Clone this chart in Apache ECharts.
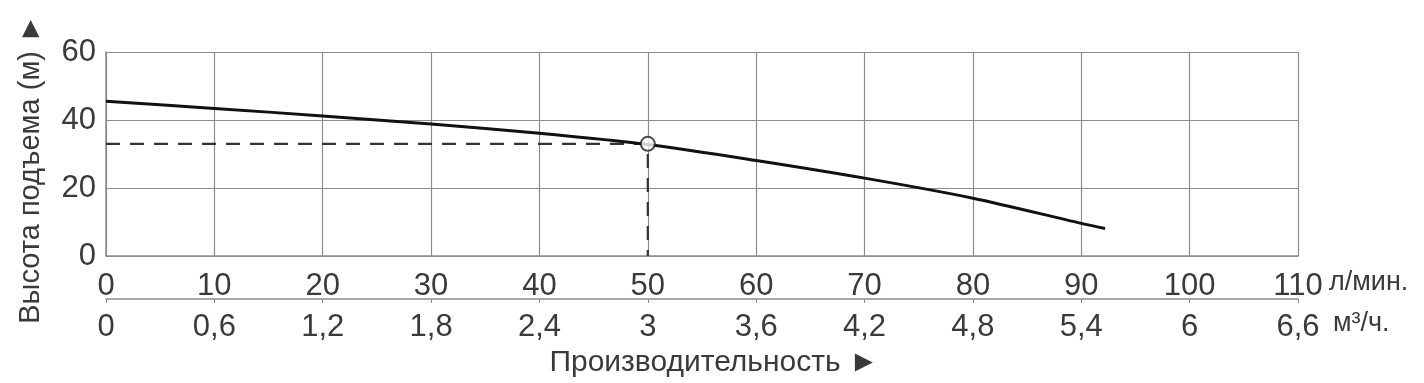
<!DOCTYPE html>
<html>
<head>
<meta charset="utf-8">
<script src="https://cdn.jsdelivr.net/npm/echarts@6/dist/echarts.min.js"></script>
<style>
  html, body { margin: 0; padding: 0; background: #fff; }
  #chart { width: 1424px; height: 383px; }
</style>
</head>
<body>
<div id="chart"></div>
<script>
// напорная характеристика насоса

var flowLmin = [0, 10, 20, 30, 40, 50, 60, 70, 80, 90, 92.2];
var headM = [45.5, 43.4, 41.2, 38.8, 36.1, 32.8, 28.1, 22.9, 17.0, 9.6, 8.1];
var workPoint = [50, 33];
var flowTicks = { min: 0, max: 110, step: 10 };
var m3Ticks = { min: 0, max: 6.6, step: 0.6 };
var headTicks = { min: 0, max: 60, step: 20 };

var gridColor = '#8c8c8c';
var txtColor = '#3a3a3a';
var font = 'Liberation Sans, Arial, sans-serif';

var curve = [];
for (let i = 0; i < flowLmin.length; i++) {
  curve.push([flowLmin[i], headM[i]]);
}
var guide = [[0, workPoint[1]], [workPoint[0], workPoint[1]], [workPoint[0], 0]];

var myChart = echarts.init(document.getElementById('chart'));
var option = {
  backgroundColor: '#fff',
  animation: false,
  grid: { left: 106, right: 126, top: 52, bottom: 125 },
  textStyle: { fontFamily: font },
  graphic: [
    {
      type: 'text',
      x: 31,
      y: 169,
      rotation: Math.PI / 2,
      style: {
        text: 'Высота подъема (м) ►',
        fontSize: 29,
        fontFamily: font,
        fill: txtColor,
        align: 'center',
        verticalAlign: 'middle'
      }
    },
    {
      type: 'text',
      left: 1329,
      top: 269,
      style: { text: 'л/мин.', fontSize: 27, fontFamily: font, fill: txtColor }
    },
    {
      type: 'text',
      left: 1333,
      top: 310,
      style: { text: 'м³/ч.', fontSize: 27, fontFamily: font, fill: txtColor }
    }
  ],
  xAxis: [
    {
      type: 'value',
      min: flowTicks.min,
      max: flowTicks.max,
      interval: flowTicks.step,
      axisLine: { show: true, lineStyle: { color: gridColor, width: 1.5 } },
      axisTick: { show: false },
      axisLabel: { fontSize: 31, color: txtColor, margin: 15 },
      splitLine: { show: true, lineStyle: { color: gridColor, width: 1.2 } }
    },
    {
      type: 'value',
      position: 'bottom',
      offset: 43,
      min: m3Ticks.min,
      max: m3Ticks.max,
      interval: m3Ticks.step,
      name: 'Производительность ►',
      nameLocation: 'middle',
      nameGap: 49,
      nameTextStyle: { fontSize: 30, color: txtColor, padding: [0, 0, 0, 24] },
      axisLine: { show: true, lineStyle: { color: gridColor, width: 1.5 } },
      axisTick: { show: true, length: 4, lineStyle: { color: gridColor } },
      axisLabel: {
        fontSize: 31, color: txtColor, margin: 13,
        formatter: function (v) { return String(+v.toFixed(1)).replace('.', ','); }
      },
      splitLine: { show: false }
    }
  ],
  yAxis: {
    type: 'value',
    min: headTicks.min,
    max: headTicks.max,
    interval: headTicks.step,
    axisLine: { show: true, lineStyle: { color: gridColor, width: 1.5 } },
    axisTick: { show: false },
    axisLabel: { fontSize: 31, color: txtColor, margin: 10 },
    splitLine: { show: true, lineStyle: { color: gridColor, width: 1.2 } }
  },
  series: [
    {
      type: 'line',
      data: guide,
      symbol: 'none',
      lineStyle: { color: '#333', width: 2.2, type: [14, 10] },
      z: 3
    },
    {
      type: 'line',
      data: curve,
      smooth: 0.3,
      symbol: 'none',
      lineStyle: { color: '#111', width: 3 },
      z: 4
    },
    {
      type: 'scatter',
      data: [workPoint],
      symbol: 'circle',
      symbolSize: 14,
      itemStyle: { color: '#fff', borderColor: '#222', borderWidth: 2 },
      z: 5
    }
  ]
};
option && myChart.setOption(option);
</script>
</body>
</html>
